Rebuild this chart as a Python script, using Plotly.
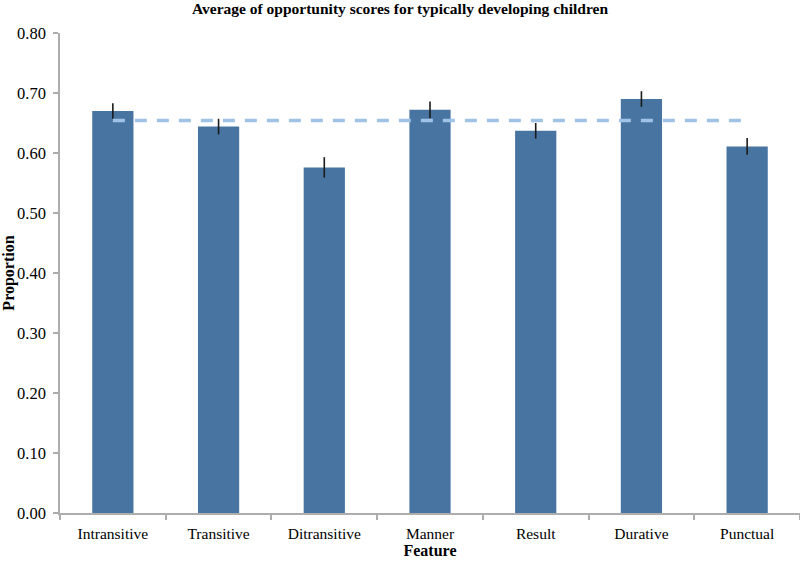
import plotly.graph_objects as go

# Data
features = ['Intransitive', 'Transitive', 'Ditransitive', 'Manner', 'Result', 'Durative', 'Punctual']
scores = [0.670, 0.644, 0.576, 0.672, 0.637, 0.690, 0.611]
errors = [0.013, 0.013, 0.017, 0.014, 0.013, 0.013, 0.014]
overall_mean = [0.654] * len(features)

serif = 'Liberation Serif, Times New Roman, serif'

bars = go.Bar(
    x=features, y=scores,
    marker=dict(color='#4874A1', line=dict(width=0)),
    error_y=dict(type='data', array=errors, color='#1a1a1a', thickness=1.6, width=0),
    showlegend=False,
)
mean_line = go.Scatter(
    x=features, y=overall_mean, mode='lines',
    line=dict(color='#9FC3E7', width=3.5, dash='12px,10px'),
    showlegend=False,
)

layout = go.Layout(
    width=800, height=563,
    margin=dict(l=60, r=0, t=33, b=50),
    plot_bgcolor='white', paper_bgcolor='white',
    font=dict(family=serif, size=15.5, color='#000'),
    title=dict(text='<b>Average of opportunity scores for typically developing children</b>',
               x=0.5, xanchor='center', y=0.995, yanchor='top',
               font=dict(family=serif, size=15.5, color='#000')),
    bargap=0.61,
    xaxis=dict(
        title=dict(text='<b>Feature</b>', standoff=2, font=dict(size=16)),
        showline=True, linecolor='#ADADAD', linewidth=1.5,
        ticks='outside', ticklen=5, tickcolor='#ADADAD', tickwidth=1.5,
        tickson='boundaries', showgrid=False, zeroline=False,
        ticklabelstandoff=6, automargin=False,
    ),
    yaxis=dict(
        title=dict(text='<b>Proportion</b>', standoff=7, font=dict(size=16)),
        range=[0, 0.8], dtick=0.1, tickformat='.2f',
        tickfont=dict(size=16.5),
        showline=True, linecolor='#ADADAD', linewidth=1.5,
        ticks='outside', ticklen=5, tickcolor='#ADADAD', tickwidth=1.5,
        showgrid=False, zeroline=False,
        ticklabelstandoff=4, automargin=False,
    ),
)

fig = go.Figure(data=[bars, mean_line], layout=layout)
fig.write_html('out.html', config={'displayModeBar': False},
               post_script="document.body.style.margin='0';")
